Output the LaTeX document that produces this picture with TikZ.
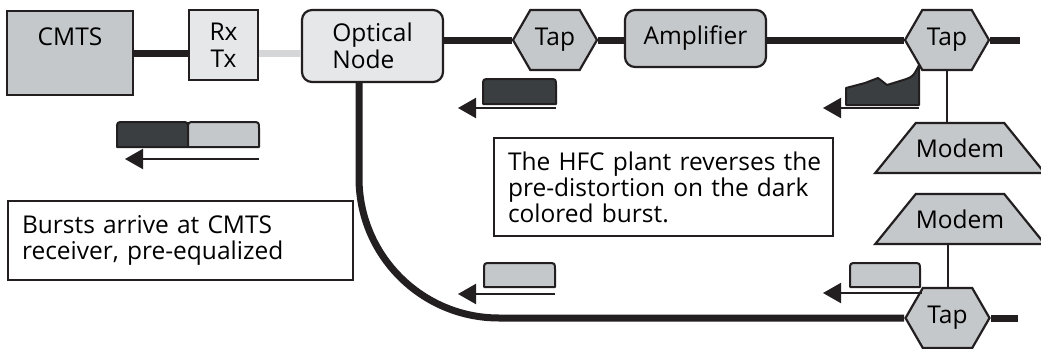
\documentclass[tikz,border=0pt]{standalone}
\usepackage{fontspec}
\setmainfont{Open Sans}
\usetikzlibrary{positioning, arrows.meta, shapes.geometric, shapes.symbols}
\definecolor{cline}{RGB}{35,31,32}
\definecolor{cgray}{RGB}{197,200,202}
\definecolor{clight}{RGB}{230,231,233}
\definecolor{cfaint}{RGB}{212,214,216}
\definecolor{cdark}{RGB}{59,62,65}

\tikzset{
  box/.style={draw=cline, line width=2.2pt, inner sep=0pt,
    font=\fontsize{24.5}{27}\selectfont},
  tap/.style={box, shape=signal, signal to=west and east,
    signal pointer angle=120, fill=cgray,
    minimum width=84pt, minimum height=60pt},
  modem/.style={box, trapezium, trapezium angle=51, fill=cgray,
    text height=18pt, text depth=0pt, inner ysep=16pt, inner xsep=0pt},
  note/.style={draw=cline, line width=2pt, align=left,
    inner xsep=14pt, inner ysep=13pt, anchor=north west,
    font=\fontsize{24.5}{26}\selectfont},
  cable/.style={draw=cline, line width=7pt},
  dropline/.style={draw=cline, line width=2pt},
  burstline/.style={draw=cline, line width=2pt, line join=round},
  flow/.style={draw=cline, line width=2pt, -{Triangle[length=18pt,width=20pt]}}
}

% a burst with rounded top corners: left, right, top, bottom, fill
\newcommand\burst[5]{%
  \draw[burstline, fill=#5] (#1,#4) -- (#1,#3+7) .. controls (#1,#3) .. (#1+7,#3)
    -- (#2-7,#3) .. controls (#2,#3) .. (#2,#3+7) -- (#2,#4) -- cycle;}

\begin{document}
\begin{tikzpicture}[x=1pt, y=-1pt]
  \path[fill=white, use as bounding box] (0,0) rectangle (1041,348);

  % head end
  \node[box, fill=cgray, minimum width=126pt, text height=34pt, text depth=50pt]
    (cmts) at (70,53) {CMTS};
  \node[box, fill=clight, minimum width=69pt, minimum height=70pt, align=center]
    (rxtx) at (223.5,45) {Rx\\Tx};
  \node[box, fill=clight, rounded corners=10pt, minimum width=141pt,
    minimum height=72pt, align=left] (opt) at (372.5,46) {Optical\\Node};

  % plant
  \node[tap] (tap1) at (555,40) {Tap};
  \node[box, fill=cgray, rounded corners=10pt, minimum width=141pt,
    minimum height=57pt] (amp) at (695.5,38.5) {Amplifier};
  \node[tap] (tap2) at (947,40) {Tap};
  \node[modem] (modem1) at (960,148) {Modem};
  \node[modem] (modem2) at (960,219) {Modem};
  \node[tap] (tap3) at (947.5,318) {Tap};
  \coordinate (end1) at (1020,40);
  \coordinate (end2) at (1018,318);
  \coordinate (drop) at ([xshift=-13.5pt]opt.south);

  \draw[cable] (cmts.east) -- (cmts.east -| rxtx.west);
  \draw[cable, draw=cfaint] (cmts.east -| rxtx.east) -- (cmts.east -| opt.west);
  \draw[cable] (opt.east |- tap1.west) -- (tap1.west);
  \draw[cable] (tap1.east) -- (tap1.east -| amp.west);
  \draw[cable] (amp.east |- tap2.west) -- (tap2.west);
  \draw[cable] (tap2.east) -- (end1);
  \draw[cable, rounded corners=140pt] (drop) |- (tap3.west);
  \draw[cable] (tap3.east) -- (end2);
  \draw[dropline] (tap2.south) -- (tap2.south |- modem1.north);
  \draw[dropline] (tap3.north) -- (tap3.north |- modem2.south);

  % bursts
  \burst{117}{188}{122}{147}{cdark}
  \burst{188}{259}{122}{147}{cgray}
  \draw[flow] (259,159) -- (125,159);
  \burst{483}{556}{79}{104}{cdark}
  \draw[flow] (556,108) -- (458,108);
  \draw[burstline, fill=cdark] (846,105) -- (846,88) -- (865,83) -- (878,78)
    -- (887,85) -- (900,81) .. controls (913,77) .. (919,65) -- (919,105) -- cycle;
  \draw[flow] (919,108) -- (823,108);
  \burst{484}{555}{263}{287}{cgray}
  \draw[flow] (555,294) -- (458,294);
  \burst{850}{920}{263}{287}{cgray}
  \draw[flow] (922,293) -- (823,293);

  % notes
  \node[note, text width=317pt, minimum height=79pt] (note1) at (7,200)
    {Bursts arrive at CMTS\\receiver, pre-equalized};
  \node[note, text width=311pt, minimum height=98pt] (note2) at (493,137)
    {\mbox{The HFC plant reverses the}\\pre-distortion on the dark\\colored burst.};
\end{tikzpicture}
\end{document}
